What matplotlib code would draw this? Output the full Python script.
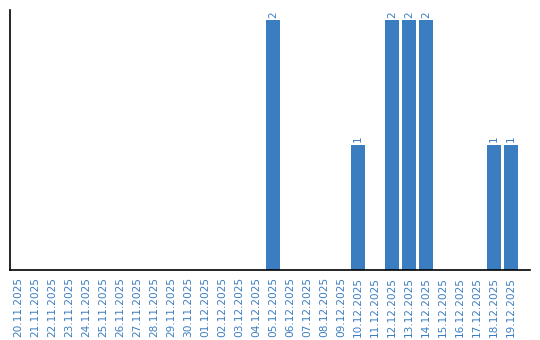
import matplotlib
matplotlib.use("Agg")
import matplotlib.pyplot as plt

dates = ["20.11.2025","21.11.2025","22.11.2025","23.11.2025","24.11.2025","25.11.2025",
         "26.11.2025","27.11.2025","28.11.2025","29.11.2025","30.11.2025","01.12.2025",
         "02.12.2025","03.12.2025","04.12.2025","05.12.2025","06.12.2025","07.12.2025",
         "08.12.2025","09.12.2025","10.12.2025","11.12.2025","12.12.2025","13.12.2025",
         "14.12.2025","15.12.2025","16.12.2025","17.12.2025","18.12.2025","19.12.2025"]
values = [0,0,0,0,0,0,0,0,0,0,0,0,0,0,0,2,0,0,0,0,1,0,2,2,2,0,0,0,1,1]

blue = "#3b7dc1"
fig = plt.figure(figsize=(5.4, 3.4), dpi=100)
ax = fig.add_axes([10/540, 1-270/340, 520/540, 260/340])
x = list(range(len(dates)))
ax.bar(x, values, width=0.82, color=blue)
for xi, v in zip(x, values):
    if v > 0:
        ax.text(xi, v + 0.02, str(v), rotation=90, ha="center", va="bottom",
                color=blue, fontsize=7.5)
ax.set_xlim(-0.47, len(dates) + 0.12)
ax.set_ylim(0, 2.08)
ax.set_xticks(x)
ax.set_xticklabels(dates, rotation=90, color=blue, fontsize=7.6)
ax.tick_params(axis="x", length=0, pad=5)
ax.set_yticks([])
ax.spines["top"].set_visible(False)
ax.spines["right"].set_visible(False)
ax.spines["left"].set_linewidth(1.2)
ax.spines["bottom"].set_linewidth(1.2)
fig.savefig("out.png", dpi=100)
